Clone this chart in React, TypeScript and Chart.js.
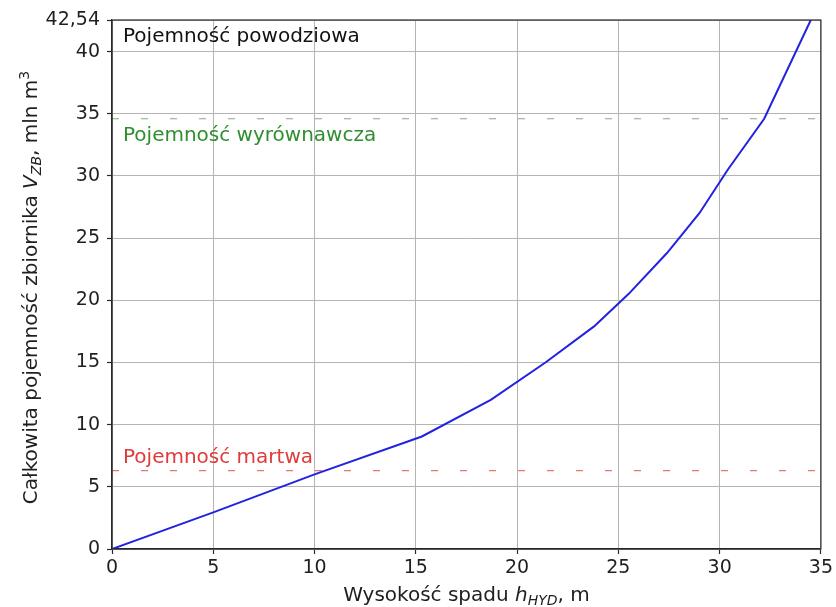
import React, { useEffect, useRef } from "react";
import { Chart, registerables } from "chart.js";

Chart.register(...registerables);

// Reservoir volume curve: head (m) vs. total volume (mln m³)
const headM = [0, 5, 10, 15.3, 18.7, 21.4, 23.8, 25.5, 27.4, 29.0, 30.4, 32.2, 34.5];
const volumeMln = [0, 2.95, 6.0, 9.05, 12.0, 15.0, 17.9, 20.5, 23.8, 27.0, 30.5, 34.6, 42.54];

// Characteristic volumes
const deadVolume = 6.3;
const equalizingVolume = 34.6;
const totalVolume = 42.54;

// Axes
const xRange = [0, 35];
const xTicks = [0, 5, 10, 15, 20, 25, 30, 35];
const yTicks = [0, 5, 10, 15, 20, 25, 30, 35, 40, totalVolume];

const zoneNames = ["Pojemność powodziowa", "Pojemność wyrównawcza", "Pojemność martwa"];
const zoneColors = ["#111111", "#2f8f2f", "#e03a3a"];

const FONT = "'DejaVu Sans', sans-serif";
const TEXT = "#1f1f1f";

type Seg = { t: string; it?: boolean; sub?: boolean; sup?: boolean };

function drawRich(
  ctx: CanvasRenderingContext2D,
  segs: Seg[],
  size: number,
  cx: number,
  cy: number,
  angle: number
) {
  ctx.save();
  ctx.translate(cx, cy);
  ctx.rotate(angle);
  const fontFor = (s: Seg) =>
    `${s.it ? "italic " : ""}${s.sub || s.sup ? Math.round(size * 0.7) : size}px ${FONT}`;
  let total = 0;
  const widths = segs.map((s) => {
    ctx.font = fontFor(s);
    const w = ctx.measureText(s.t).width;
    total += w;
    return w;
  });
  let x = -total / 2;
  ctx.textAlign = "left";
  ctx.textBaseline = "alphabetic";
  ctx.fillStyle = TEXT;
  segs.forEach((s, i) => {
    ctx.font = fontFor(s);
    const dy = s.sub ? size * 0.22 : s.sup ? -size * 0.4 : 0;
    ctx.fillText(s.t, x, dy);
    x += widths[i];
  });
  ctx.restore();
}

const xTitle: Seg[] = [
  { t: "Wysokość spadu " },
  { t: "h", it: true },
  { t: "HYD", it: true, sub: true },
  { t: ", m" },
];

const yTitle: Seg[] = [
  { t: "Całkowita pojemność zbiornika " },
  { t: "V", it: true },
  { t: "ZB", it: true, sub: true },
  { t: ", mln m" },
  { t: "3", sup: true },
];

const framePlugin = {
  id: "frame",
  afterDatasetsDraw(chart: any) {
    const { ctx, chartArea } = chart;
    ctx.save();
    ctx.strokeStyle = "#2a2a2a";
    ctx.lineWidth = 1.2;
    ctx.strokeRect(chartArea.left, chartArea.top, chartArea.right - chartArea.left, chartArea.bottom - chartArea.top);
    ctx.restore();
  },
};

const labelsPlugin = {
  id: "labels",
  afterDraw(chart: any) {
    const { ctx, chartArea } = chart;
    const y = chart.scales.y;
    const left = chartArea.left + 11;
    ctx.save();
    ctx.font = `20px ${FONT}`;
    ctx.textAlign = "left";
    ctx.textBaseline = "alphabetic";
    ctx.fillStyle = zoneColors[0];
    ctx.fillText(zoneNames[0], left, y.getPixelForValue(totalVolume) + 22);
    ctx.fillStyle = zoneColors[1];
    ctx.fillText(zoneNames[1], left, y.getPixelForValue(equalizingVolume) + 22);
    ctx.fillStyle = zoneColors[2];
    ctx.fillText(zoneNames[2], left, y.getPixelForValue(deadVolume) - 8);
    ctx.restore();

    drawRich(ctx, xTitle, 20, (chartArea.left + chartArea.right) / 2, 601, 0);
    drawRich(ctx, yTitle, 20, 37, (chartArea.top + chartArea.bottom) / 2 + 3, -Math.PI / 2);
  },
};

export default function App() {
  const ref = useRef<HTMLCanvasElement>(null);

  useEffect(() => {
    const canvas = ref.current;
    if (!canvas) return;
    const grid = { color: "#b4b4b4", lineWidth: 1, tickLength: 5, tickColor: "#2a2a2a", tickWidth: 1.2 };
    const border = { color: "#2a2a2a", width: 1.2 };
    const chart = new Chart(canvas, {
      type: "line",
      data: {
        datasets: [
          {
            data: headM.map((h, i) => ({ x: h, y: volumeMln[i] })),
            borderColor: "#2222e0",
            borderWidth: 2,
            pointRadius: 0,
            tension: 0,
            order: 0,
          },
          {
            data: xRange.map((x) => ({ x, y: deadVolume })),
            borderColor: "rgba(225,70,70,0.75)",
            borderWidth: 1.2,
            borderDash: [7, 22],
            pointRadius: 0,
            order: 1,
          },
          {
            data: xRange.map((x) => ({ x, y: equalizingVolume })),
            borderColor: "rgba(95,135,95,0.75)",
            borderWidth: 1.2,
            borderDash: [7, 22],
            pointRadius: 0,
            order: 2,
          },
        ],
      },
      options: {
        responsive: false,
        animation: false,
        events: [],
        layout: { padding: { top: 20, right: 14, left: 0, bottom: 0 } },
        plugins: { legend: { display: false }, tooltip: { enabled: false } },
        scales: {
          x: {
            type: "linear",
            min: xRange[0],
            max: xRange[1],
            afterBuildTicks: (s: any) => {
              s.ticks = xTicks.map((v) => ({ value: v }));
            },
            afterFit: (s: any) => {
              s.height = 58;
            },
            ticks: { font: { family: FONT, size: 19 }, color: TEXT, padding: 3, maxRotation: 0 },
            grid,
            border,
          },
          y: {
            type: "linear",
            min: 0,
            max: totalVolume,
            afterBuildTicks: (s: any) => {
              s.ticks = yTicks.map((v) => ({ value: v }));
            },
            afterFit: (s: any) => {
              s.width = 112;
            },
            ticks: {
              font: { family: FONT, size: 19 },
              color: TEXT,
              padding: 7,
              callback: (v: any) => String(v).replace(".", ","),
            },
            grid,
            border,
          },
        },
      },
      plugins: [framePlugin, labelsPlugin],
    });
    return () => chart.destroy();
  }, []);

  return (
    <div style={{ position: "fixed", left: 0, top: 0, width: 836, height: 607, background: "#fff" }}>
      <canvas ref={ref} width={836} height={607} style={{ display: "block" }} />
    </div>
  );
}
